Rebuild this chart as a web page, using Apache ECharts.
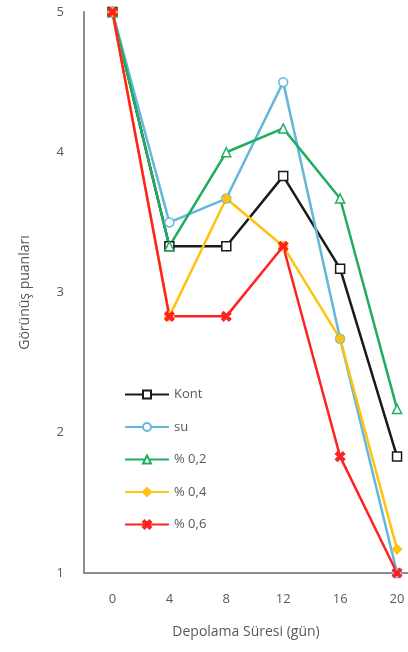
<!DOCTYPE html>
<html><head><meta charset="utf-8">
<script src="https://cdn.jsdelivr.net/npm/echarts@6/dist/echarts.min.js"></script>
<style>html,body{margin:0;padding:0;background:#fff}#c{width:408px;height:652px}</style>
</head><body><div id="c"></div>
<script>
const categories = [0, 4, 8, 12, 16, 20];
const kont = [5, 3.33, 3.33, 3.83, 3.17, 1.83];
const su   = [5, 3.5, 3.67, 4.5, 2.67, 1.0];
const p02  = [5, 3.33, 4.0, 4.17, 3.67, 2.17];
const p04  = [5, 2.83, 3.67, 3.33, 2.67, 1.17];
const p06  = [5, 2.83, 2.83, 3.33, 1.83, 1.0];
const yTicks = [1, 2, 3, 4, 5];

const xPath = 'path://M2,0L5,3L8,0L10,2L7,5L10,8L8,10L5,7L2,10L0,8L3,5L0,2Z';
const textColor = '#595959';
function s(name, vals, color, symbol, fill) {
  return {
    name, type: 'line', data: categories.map((c, i) => [c, vals[i]]), symbol, symbolSize: 9,
    lineStyle: { color, width: 2.5 },
    itemStyle: { color: fill || color, borderColor: color, borderWidth: 1.5 },
    emphasis: { disabled: true }
  };
}
const chart = echarts.init(document.getElementById('c'));
chart.setOption({
  animation: false,
  textStyle: { fontFamily: 'Open Sans, Noto Sans, sans-serif' },
  grid: { left: 84, top: 12, right: 0, height: 561 },
  legend: {
    orient: 'vertical', left: 119, top: 383, itemGap: 19.5, itemWidth: 44, itemHeight: 10,
    textStyle: { color: textColor, fontSize: 13 },
    data: ['Kont', 'su', '% 0,2', '% 0,4', '% 0,6']
  },
  xAxis: {
    type: 'value', min: -2, max: 20.77, interval: 2,
    axisLine: { onZero: false, lineStyle: { color: '#8c8c8c', width: 2 } },
    axisTick: { show: false }, splitLine: { show: false },
    axisLabel: { color: textColor, fontSize: 13, margin: 20, showMinLabel: true, showMaxLabel: false,
      formatter: v => categories.includes(v) ? String(v) : '' },
    name: 'Depolama Süresi (gün)', nameLocation: 'middle', nameGap: 52,
    nameTextStyle: { color: textColor, fontSize: 14 }
  },
  yAxis: {
    type: 'value', min: 1, max: 5, interval: 1,
    axisLine: { show: true, onZero: false, lineStyle: { color: '#8c8c8c', width: 2 } },
    axisTick: { show: false }, splitLine: { show: false },
    axisLabel: { color: textColor, fontSize: 13, margin: 20,
      formatter: v => yTicks.includes(v) ? String(v) : '' },
    name: 'Görünüş puanları', nameLocation: 'middle', nameGap: 52,
    nameTextStyle: { color: textColor, fontSize: 14 }
  },
  series: [
    s('Kont', kont, '#1a1a1a', 'rect', '#ffffff'),
    s('su', su, '#62b8db', 'circle', '#ffffff'),
    s('% 0,2', p02, '#1fae5f', 'triangle', '#ffffff'),
    s('% 0,4', p04, '#ffc20e', 'diamond'),
    s('% 0,6', p06, '#ff2222', xPath)
  ]
});
</script></body></html>
